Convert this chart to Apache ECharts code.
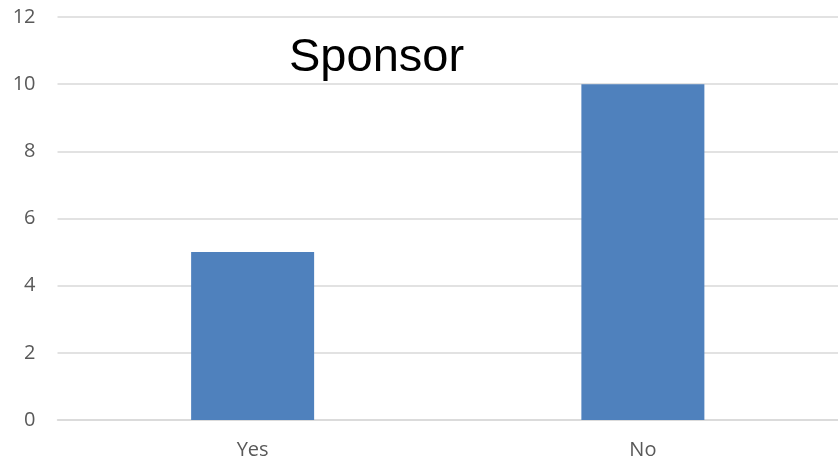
<!DOCTYPE html>
<html><head><meta charset="utf-8">
<script src="https://cdn.jsdelivr.net/npm/echarts@6/dist/echarts.min.js"></script>
<style>html,body{margin:0;padding:0;background:#fff}#c{width:838px;height:462px}</style>
</head><body><div id="c"></div>
<script>
const categories = ["Yes", "No"];
const values = [5, 10];
const titleText = "Sponsor";

const chart = echarts.init(document.getElementById('c'));
chart.setOption({
  animation: false,
  title: {
    text: titleText, left: 284, top: 30,
    textStyle: {fontFamily: 'Liberation Sans', fontSize: 47, fontWeight: 'normal', color: '#000'}
  },
  grid: {left: 57.5, width: 784, top: 17, bottom: 42},
  xAxis: {
    type: 'category', data: categories,
    axisLine: {lineStyle: {color: '#d9d9d9', width: 1.5}},
    axisTick: {show: false},
    axisLabel: {color: '#595959', fontSize: 20, fontFamily: 'Open Sans', margin: 20}
  },
  yAxis: {
    type: 'value', min: 0, max: 12, interval: 2,
    axisLine: {show: false}, axisTick: {show: false},
    splitLine: {lineStyle: {color: '#d9d9d9', width: 1.5}},
    axisLabel: {color: '#595959', fontSize: 20, fontFamily: 'Open Sans', margin: 22}
  },
  series: [{
    type: 'bar', data: values, barWidth: 123,
    itemStyle: {color: '#4f81bd'}
  }]
});
</script></body></html>
